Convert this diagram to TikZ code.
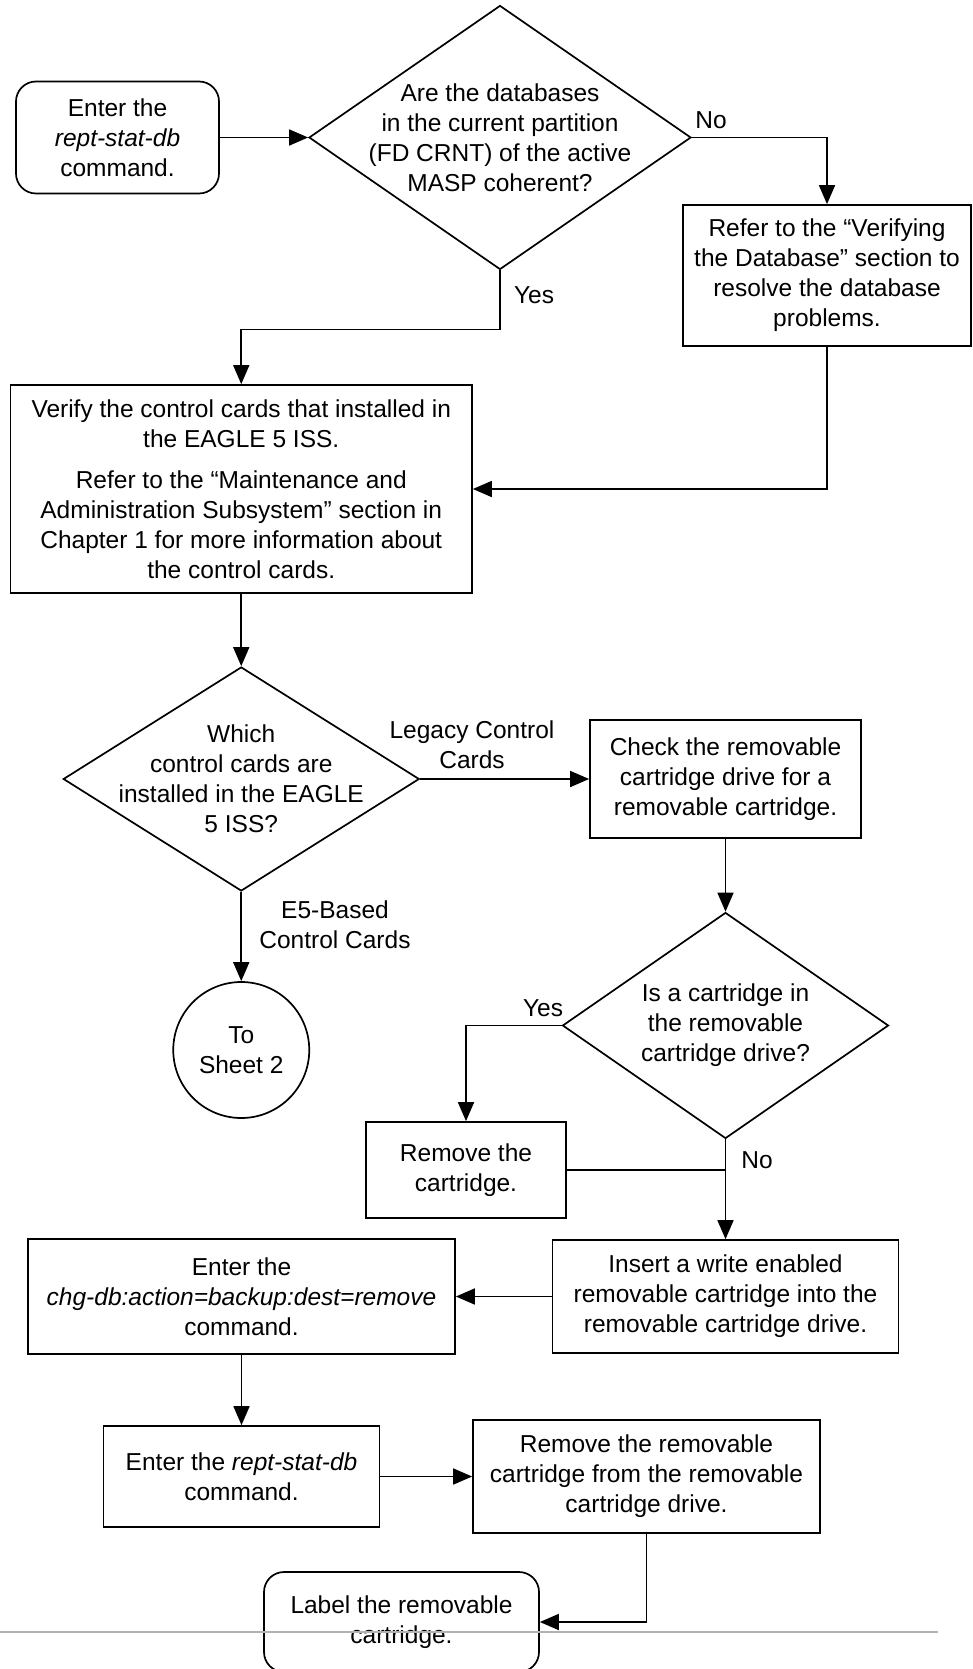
\documentclass[tikz,border=0pt]{standalone}
\usepackage{fontspec}
\setmainfont{Liberation Sans}
\usetikzlibrary{shapes.geometric,arrows.meta}
\begin{document}
\begin{tikzpicture}[x=1pt,y=-1pt,
  every node/.style={font=\fontsize{24.5}{30}\selectfont, align=center, inner sep=0pt},
  proc/.style 2 args={draw, line width=1.7pt, minimum width=#1, minimum height=#2},
  term/.style 2 args={draw, line width=1.7pt, rounded corners=20pt, minimum width=#1, minimum height=#2},
  dec/.style 2 args={draw, shape=diamond, line width=1.7pt, minimum width=#1, minimum height=#2},
  conn/.style={draw, shape=circle, line width=1.7pt, minimum size=#1},
  flow/.style={line width=1.7pt, -{Triangle[length=19pt,width=16pt]}},
  plain/.style={line width=1.7pt},
  sep/.style={draw=black!30, line width=2pt}
]
\useasboundingbox (0,0) rectangle (973,1669);

% nodes
\node[term={203pt}{112pt}] (start) at (117.5,137.5) {Enter the\\\textit{rept-stat-db}\\command.};
\node[dec={382pt}{264pt}] (d1) at (500,137.5) {};
\node (d1t) at (d1) {Are the databases\\in the current partition\\(FD CRNT) of the active\\MASP coherent?};
\node[proc={288pt}{141pt}] (refer) at (827,275.5) {Refer to the “Verifying\\the Database” section to\\resolve the database\\problems.};
\node[proc={461.5pt}{208pt}] (verify) at (241.25,489) {Verify the control cards that installed in\\the EAGLE 5 ISS.\\[11pt]Refer to the “Maintenance and\\Administration Subsystem” section in\\Chapter 1 for more information about\\the control cards.};
\node[dec={356pt}{224pt}] (d2) at (241.25,779) {};
\node (d2t) at (d2) {Which\\control cards are\\installed in the EAGLE\\5 ISS?};
\node[proc={271pt}{118pt}] (check) at (725.5,779) {Check the removable\\cartridge drive for a\\removable cartridge.};
\node[dec={326pt}{226pt}] (d3) at (725.5,1025.5) {};
\node (d3t) at (d3) {Is a cartridge in\\the removable\\cartridge drive?};
\node[conn={136pt}] (sheet) at (241.25,1050) {To\\Sheet 2};
\node[proc={200pt}{96pt}] (remc) at (466,1170) {Remove the\\cartridge.};
\node[proc={346pt}{113pt}] (insert) at (725.5,1296.5) {Insert a write enabled\\removable cartridge into the\\removable cartridge drive.};
\node[proc={427pt}{115pt}] (chg) at (241.5,1296.5) {Enter the\\\textit{chg-db:action=backup:dest=remove}\\command.};
\node[proc={276pt}{101pt}] (rept) at (241.5,1476.5) {Enter the \textit{rept-stat-db}\\command.};
\node[proc={347pt}{113pt}] (remr) at (646.5,1476.5) {Remove the removable\\cartridge from the removable\\cartridge drive.};
\node[term={275pt}{100pt}] (label) at (401.5,1622) {Label the removable\\cartridge.};

% edge labels
\node (lno1) at (711,120) {No};
\node (lyes1) at (534,295) {Yes};
\node (lleg) at (472,745) {Legacy Control\\Cards};
\node (le5) at (335,925) {E5-Based\\Control Cards};
\node (lyes3) at (543,1008) {Yes};
\node (lno3) at (757,1160) {No};

% connectors
\draw[flow] (start.east) -- (d1.west);
\draw[flow] (d1.east) -| (refer.north);
\coordinate (yturn) at ([yshift=-59pt]d1.south);
\draw[flow] (d1.south) -- (yturn) -| (verify.north);
\draw[flow] (refer.south) |- (verify.east);
\draw[flow] (verify.south) -- (d2.north);
\draw[flow] (d2.east) -- (check.west);
\draw[flow] (d2.south) -- (sheet.north);
\draw[flow] (check.south) -- (d3.north);
\draw[flow] (d3.west) -| (remc.north);
\draw[flow] (d3.south) -- (insert.north);
\coordinate (join) at (remc.east -| d3.south);
\draw[plain] (remc.east) -- (join);
\draw[flow] (insert.west) -- (chg.east);
\draw[flow] (chg.south) -- (rept.north);
\draw[flow] (rept.east) -- (remr.west);
\draw[flow] (remr.south) |- (label.east);

% page separator
\coordinate (sepa) at (0,1632);
\coordinate (sepb) at (938,1632);
\draw[sep] (sepa) -- (sepb);
\end{tikzpicture}
\end{document}
